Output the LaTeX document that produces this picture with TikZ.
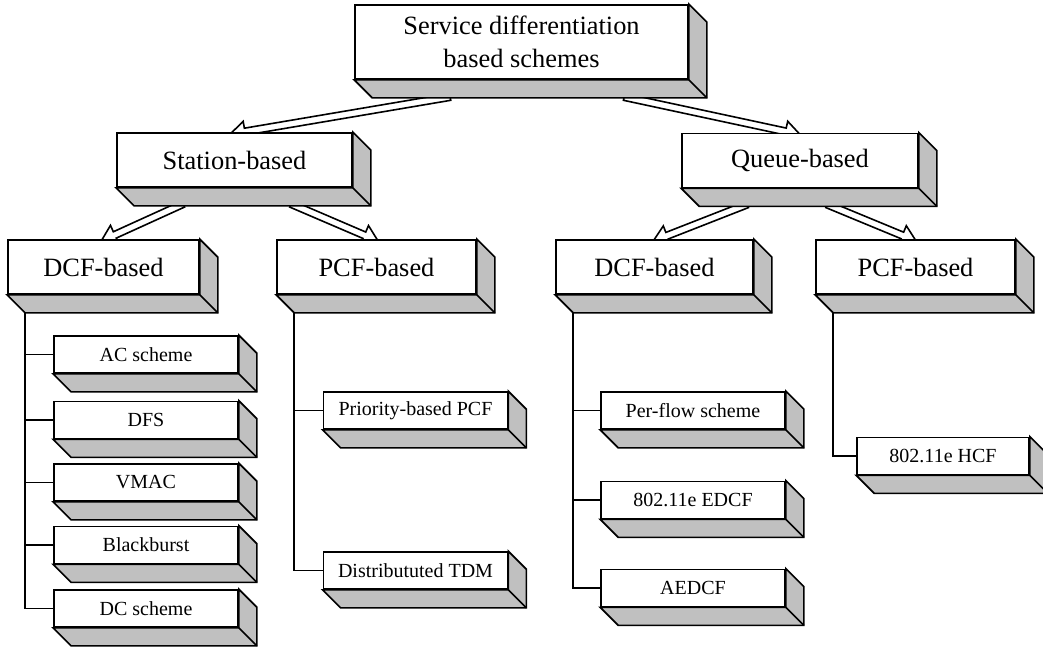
\documentclass[tikz,border=0pt]{standalone}
\usepackage{fontspec}
\setmainfont{Liberation Serif}
\usetikzlibrary{calc}
\pgfdeclarelayer{background}
\pgfsetlayers{background,main}
\definecolor{sidegray}{HTML}{C0C0C0}
\tikzset{
  face/.style={draw, fill=white, line width=1.7pt, inner sep=0pt, align=center},
  big/.style={face, font=\fontsize{26.4}{33}\selectfont, minimum height=54pt},
  leaf/.style={face, font=\fontsize{20}{24}\selectfont, minimum width=184pt, minimum height=37pt},
  side/.style={draw, fill=sidegray, line width=1.7pt, line join=miter},
  blockarrow/.style={draw, fill=white, line width=1.6pt, line join=miter},
  link/.style={line width=1.8pt},
}
\newcommand\boxdepth[1]{%
  \filldraw[side] (#1.south west) -- ++(18pt,-18pt) -- ([shift={(18pt,-18pt)}]#1.south east)
    -- ([shift={(18pt,-18pt)}]#1.north east) -- (#1.north east) -- (#1.south east) -- cycle;
  \draw[side, fill=none] (#1.south east) -- ++(18pt,-18pt);
  \coordinate (#1-c) at ([shift={(18pt,-18pt)}]#1.south west);
}
\newcommand\blockarr[2]{%
  \path ($(#2)!15pt!(#1)$) coordinate (bah);
  \filldraw[blockarrow] ($(#1)!3.5pt!90:(#2)$) -- ($(bah)!3.5pt!90:(#2)$)
    -- ($(bah)!10.5pt!90:(#2)$) -- (#2) -- ($(bah)!10.5pt!-90:(#2)$)
    -- ($(bah)!3.5pt!-90:(#2)$) -- ($(#1)!3.5pt!-90:(#2)$) -- cycle;
}
\begin{document}
\begin{tikzpicture}[x=1pt, y=-1pt]
\useasboundingbox (0,0) rectangle (1043,648);
% main boxes
\node[big, minimum width=333pt, minimum height=74pt] (top) at (521.5,42) {Service differentiation\\based schemes};
\node[big, minimum width=235pt] (station) at (234.5,160) {Station-based};
\node[big, minimum width=236pt] (queue) at (800,160.5) {Queue-based};
\node[big, minimum width=191pt] (dcfa) at (103.5,267) {DCF-based};
\node[big, minimum width=199pt] (pcfa) at (376.5,267) {PCF-based};
\node[big, minimum width=197pt] (dcfb) at (654.5,267) {DCF-based};
\node[big, minimum width=199pt] (pcfb) at (915.5,267) {PCF-based};
% leaves
\node[leaf] (ac) at (146,354.5) {AC scheme};
\node[leaf] (dfs) at (146,420) {DFS};
\node[leaf] (vmac) at (146,482.5) {VMAC};
\node[leaf] (bb) at (146,545) {Blackburst};
\node[leaf] (dcs) at (146,608.5) {DC scheme};
\node[leaf] (prio) at (415.5,410.5) {Priority-based PCF};
\node[leaf] (tdm) at (415.5,570.5) {Distribututed TDM};
\node[leaf] (perflow) at (693,410.5) {Per-flow scheme};
\node[leaf] (edcf) at (693,500) {802.11e EDCF};
\node[leaf] (aedcf) at (693,588) {AEDCF};
\node[leaf, minimum width=172pt] (hcf) at (943,456) {802.11e HCF};
% depth faces
\foreach \n in {top,station,queue,dcfa,pcfa,dcfb,pcfb,ac,dfs,vmac,bb,dcs,prio,tdm,perflow,edcf,aedcf,hcf}{\boxdepth{\n}}
% trunks
\foreach \n in {ac,dfs,vmac,bb,dcs}{\draw[link] (dcfa-c) |- (\n.west);}
\foreach \n in {prio,tdm}{\draw[link] (pcfa-c) |- (\n.west);}
\foreach \n in {perflow,edcf,aedcf}{\draw[link] (dcfb-c) |- (\n.west);}
\draw[link] (pcfb-c) |- (hcf.west);
% block arrows behind boxes
\begin{pgfonlayer}{background}
\coordinate (s1) at ($(top.south west)+(96,17)$);
\coordinate (t1) at ($(station.north west)+(114,2)$);
\coordinate (s2) at ($(top.south west)+(270,17)$);
\coordinate (t2) at ($(queue.north west)+(119,2)$);
\coordinate (s3) at ($(station.south west)+(67,16)$);
\coordinate (t3) at ($(dcfa.north west)+(94,2)$);
\coordinate (s4) at ($(station.south west)+(175,16)$);
\coordinate (t4) at ($(pcfa.north west)+(102,2)$);
\coordinate (s5) at ($(queue.south west)+(66,16)$);
\coordinate (t5) at ($(dcfb.north west)+(98,2)$);
\coordinate (s6) at ($(queue.south west)+(146,16)$);
\coordinate (t6) at ($(pcfb.north west)+(101,2)$);
\blockarr{s1}{t1}
\blockarr{s2}{t2}
\blockarr{s3}{t3}
\blockarr{s4}{t4}
\blockarr{s5}{t5}
\blockarr{s6}{t6}
\end{pgfonlayer}
\end{tikzpicture}
\end{document}
